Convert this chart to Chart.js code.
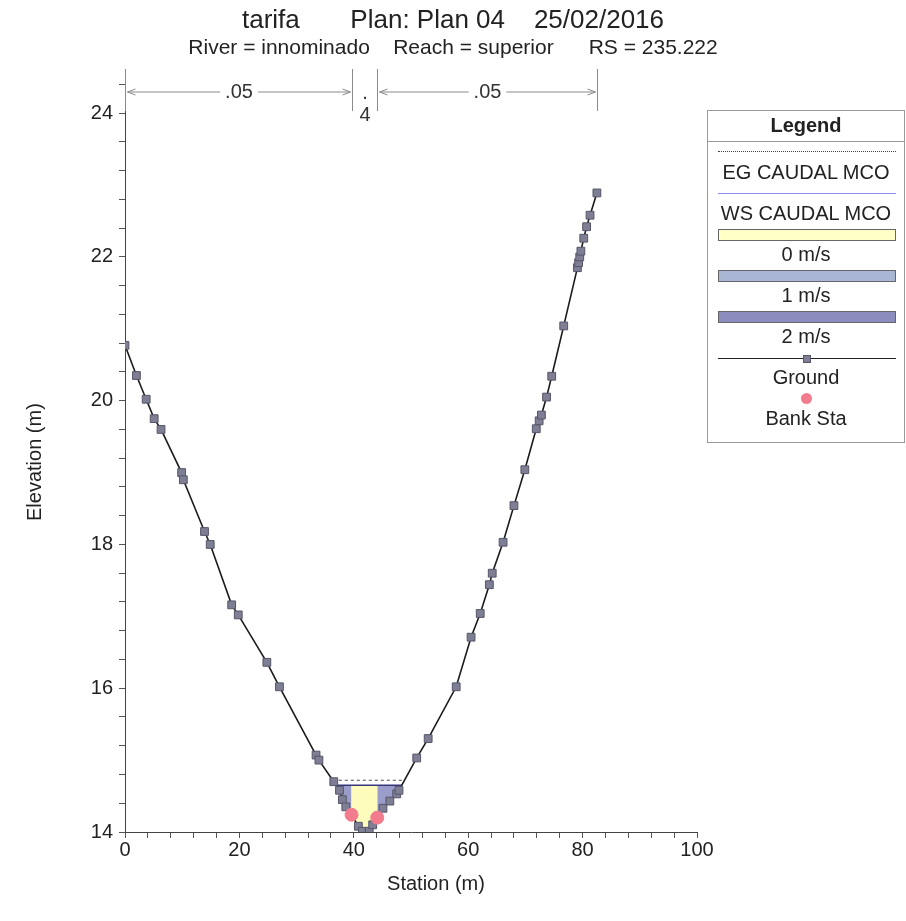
<!DOCTYPE html>
<html>
<head>
<meta charset="utf-8">
<title>tarifa - Plan 04 - RS 235.222</title>
<script src="https://cdn.jsdelivr.net/npm/chart.js@4.4.1/dist/chart.umd.min.js"></script>
<style>
    html, body { margin: 0; padding: 0; background: #fff; }
    #wrap { position: relative; width: 906px; height: 921px; }
    #chart { display: block; }
    #legend {
        position: absolute; left: 707px; top: 110px; width: 198px; height: 333px;
        border: 1px solid #9a9a9a; box-sizing: border-box;
        font-family: "Liberation Sans", Arial, sans-serif; font-size: 20px; color: #222;
        text-align: center;
    }
    #legend .head { height: 30px; line-height: 28px; font-weight: bold; border-bottom: 1px solid #9a9a9a; }
    #legend .sym { position: relative; height: 20px; }
    #legend .lbl { height: 21px; line-height: 21px; white-space: nowrap; }
    #legend .sym span { position: absolute; left: 10px; right: 8px; }
</style>
</head>
<body>
<div id="wrap">
    <canvas id="chart" width="906" height="921"></canvas>
    <div id="legend"></div>
</div>
<script>
// =========================================================
// Data  –  cross section RS 235.222
// =========================================================

const chartTitle = 'tarifa       Plan: Plan 04    25/02/2016';
const chartSubtitle = 'River = innominado    Reach = superior      RS = 235.222';

// ground survey: station (m) / elevation (m)
const groundStation = [
    0, 2.0, 3.7, 5.1, 6.3, 9.9, 10.2, 13.9, 14.9, 18.65, 19.8, 24.8, 27.0,
    33.4, 33.9, 36.5, 37.5, 38.0, 38.6, 39.6, 40.8, 41.5, 42.7, 43.3, 44.1,
    45.1, 46.3, 47.5, 47.9, 51.0, 53.0, 57.9, 60.5, 62.1, 63.7, 64.2, 66.1,
    68.0, 69.9, 71.9, 72.4, 72.8, 73.7, 74.6, 76.7, 79.1, 79.3, 79.5, 79.7,
    80.2, 80.7, 81.3, 82.5
];
const groundElev = [
    20.77, 20.35, 20.02, 19.75, 19.60, 19.00, 18.90, 18.18, 18.00, 17.16, 17.02, 16.36, 16.02,
    15.07, 15.00, 14.70, 14.58, 14.45, 14.35, 14.24, 14.08, 14.01, 14.01, 14.10, 14.20,
    14.33, 14.43, 14.53, 14.58, 15.03, 15.30, 16.02, 16.71, 17.04, 17.44, 17.60, 18.03,
    18.54, 19.04, 19.61, 19.72, 19.80, 20.05, 20.34, 21.04, 21.85, 21.92, 22.00, 22.08,
    22.26, 22.42, 22.58, 22.89
];

const bankStations = [39.6, 44.1];
const wsElev = 14.65;   // WS CAUDAL MCO
const egElev = 14.72;   // EG CAUDAL MCO

// Manning's n header
const nLabels = ['.05', '.4', '.05'];

// velocity legend
const velocityLabels = ['0 m/s', '1 m/s', '2 m/s'];
const velocityColors = ['#ffffc6', '#a9b6d4', '#8c8cbe'];
// colour of each flow slice: left overbank, channel, right overbank
const sliceColors = ['#9a9cca', '#fdfcbc', '#9a9cca'];

// axis ticks
const xTickLabels = [0, 20, 40, 60, 80, 100];
const xMinorStep = 4;
const yTickLabels = [14, 16, 18, 20, 22, 24];
const yMinorStep = 0.4;
const yTop = 24.6;

const fontFamily = '"Liberation Sans", Arial, sans-serif';

// =========================================================
// Helpers
// =========================================================

const ground = groundStation.map((s, i) => ({ x: s, y: groundElev[i] }));

function groundAt(st) {
    for (let i = 1; i < ground.length; i++) {
        const a = ground[i - 1], b = ground[i];
        if (st >= a.x && st <= b.x) {
            return a.y + (b.y - a.y) * (st - a.x) / (b.x - a.x);
        }
    }
    return null;
}

// where the ground meets a level on both sides of the thalweg
function crossings(level) {
    let low = 0;
    ground.forEach((p, i) => { if (p.y < ground[low].y) low = i; });
    let l = low, r = low;
    while (l > 0 && ground[l - 1].y < level) l--;
    while (r < ground.length - 1 && ground[r + 1].y < level) r++;
    const lerp = (a, b) => a.x + (b.x - a.x) * (level - a.y) / (b.y - a.y);
    return [lerp(ground[l - 1], ground[l]), lerp(ground[r], ground[r + 1])];
}

function slicePoints(from, to) {
    const pts = [{ x: from, y: groundAt(from) }];
    ground.forEach(p => { if (p.x > from && p.x < to) pts.push(p); });
    pts.push({ x: to, y: groundAt(to) });
    return pts;
}

const wsEdges = crossings(wsElev);
const egEdges = crossings(egElev);
const sliceBreaks = [wsEdges[0], bankStations[0], bankStations[1], wsEdges[1]];
const nBreaks = [groundStation[0], bankStations[0], bankStations[1], groundStation[groundStation.length - 1]];

// =========================================================
// Datasets
// =========================================================

const datasets = [
    {
        label: 'EG CAUDAL MCO',
        data: egEdges.map(s => ({ x: s, y: egElev })),
        borderColor: '#4a4a4a', borderWidth: 1, borderDash: [3, 3],
        pointRadius: 0, order: 3,
    },
    {
        label: 'WS CAUDAL MCO',
        data: wsEdges.map(s => ({ x: s, y: wsElev })),
        borderColor: '#35357a', borderWidth: 1.5,
        pointRadius: 0, order: 2,
    },
];

sliceColors.forEach((c, i) => {
    datasets.push({
        label: 'slice ' + i,
        data: slicePoints(sliceBreaks[i], sliceBreaks[i + 1]),
        borderWidth: 0, pointRadius: 0,
        backgroundColor: c,
        fill: { value: wsElev },
        order: 5,
    });
});

datasets.push({
    label: 'Ground',
    data: ground,
    borderColor: '#1b1b1b', borderWidth: 1.6,
    pointStyle: 'rect', pointRadius: 5.5,
    pointBackgroundColor: '#7e7e94', pointBorderColor: '#56566a', pointBorderWidth: 1,
    order: 1,
});

datasets.push({
    label: 'Bank Sta',
    data: bankStations.map(s => ({ x: s, y: groundAt(s) })),
    showLine: false,
    pointStyle: 'circle', pointRadius: 6.5,
    pointBackgroundColor: '#f37b8e', pointBorderColor: '#f37b8e',
    order: 0,
});

// =========================================================
// Manning's n header plugin
// =========================================================

const manningPlugin = {
    id: 'manningN',
    afterDraw(chart) {
        const { ctx, chartArea, scales } = chart;
        const top = chartArea.top;
        const yArrow = top + 22;
        const px = nBreaks.map(s => Math.round(scales.x.getPixelForValue(s)) + 0.5);

        ctx.save();
        ctx.strokeStyle = '#8a8a8a';
        ctx.lineWidth = 1;
        ctx.fillStyle = '#333';
        ctx.font = '20px ' + fontFamily;
        ctx.textAlign = 'center';
        ctx.textBaseline = 'middle';

        px.forEach(p => {
            ctx.beginPath();
            ctx.moveTo(p, top - 1);
            ctx.lineTo(p, top + 41);
            ctx.stroke();
        });

        for (let i = 0; i < nLabels.length; i++) {
            const a = px[i] + 2, b = px[i + 1] - 2, mid = (a + b) / 2;
            const label = nLabels[i];
            const w = ctx.measureText(label).width;
            if (w + 30 < b - a) {
                ctx.beginPath();
                ctx.moveTo(a, yArrow); ctx.lineTo(mid - w / 2 - 5, yArrow);
                ctx.moveTo(mid + w / 2 + 5, yArrow); ctx.lineTo(b, yArrow);
                ctx.moveTo(a + 8, yArrow - 3); ctx.lineTo(a, yArrow); ctx.lineTo(a + 8, yArrow + 3);
                ctx.moveTo(b - 8, yArrow - 3); ctx.lineTo(b, yArrow); ctx.lineTo(b - 8, yArrow + 3);
                ctx.stroke();
                ctx.fillText(label, mid, yArrow);
            } else {
                // too narrow: stack the characters
                label.split('').forEach((ch, k) => ctx.fillText(ch, mid, yArrow + 1 + k * 22));
            }
        }
        ctx.restore();
    }
};

// =========================================================
// Chart
// =========================================================

const tickFont = { family: fontFamily, size: 20 };

new Chart(document.getElementById('chart'), {
    type: 'line',
    data: { datasets },
    plugins: [manningPlugin],
    options: {
        responsive: false,
        animation: false,
        devicePixelRatio: 1,
        layout: { padding: 0 },
        plugins: {
            legend: { display: false },
            tooltip: { enabled: false },
            title: {
                display: true, text: chartTitle, color: '#222',
                font: { family: fontFamily, size: 26, weight: 'normal', lineHeight: 1.15 },
                padding: { top: 6, bottom: 0 },
            },
            subtitle: {
                display: true, text: chartSubtitle, color: '#222',
                font: { family: fontFamily, size: 21, lineHeight: 1.1 },
                padding: { top: 1, bottom: 10 },
            },
        },
        scales: {
            x: {
                type: 'linear', min: xTickLabels[0], max: xTickLabels[xTickLabels.length - 1],
                afterBuildTicks: s => {
                    const ticks = [];
                    for (let v = s.min; v <= s.max + 1e-9; v += xMinorStep) ticks.push({ value: v });
                    s.ticks = ticks;
                },
                afterFit: s => { s.height = 89; },
                ticks: {
                    font: tickFont, color: '#222', padding: 0, maxRotation: 0, autoSkip: false,
                    callback: v => xTickLabels.includes(v) ? String(v) : '',
                },
                grid: { drawOnChartArea: false, tickLength: 6, color: '#555' },
                border: { color: '#444', width: 1 },
                title: {
                    display: true, text: '         Station (m)', color: '#222',
                    font: { family: fontFamily, size: 20 }, padding: { top: 0, bottom: 25 },
                },
            },
            y: {
                type: 'linear', min: yTickLabels[0], max: yTop,
                afterBuildTicks: s => {
                    const ticks = [];
                    for (let v = s.min; v <= s.max + 1e-9; v += yMinorStep) ticks.push({ value: Math.round(v * 10) / 10 });
                    s.ticks = ticks;
                },
                afterFit: s => { s.width = 125; },
                ticks: {
                    font: tickFont, color: '#222', padding: 6, autoSkip: false,
                    callback: v => yTickLabels.includes(v) ? String(v) : '',
                },
                grid: { drawOnChartArea: false, tickLength: 6, color: '#555' },
                border: { color: '#444', width: 1 },
                title: {
                    display: true, text: 'Elevation (m)    ', color: '#222',
                    font: { family: fontFamily, size: 20 }, padding: { top: 23, bottom: 0 },
                },
            },
            // empty right-hand box that keeps room for the legend
            legendSpace: {
                type: 'linear', position: 'right', display: true,
                grid: { display: false }, border: { display: false }, ticks: { display: false },
                afterFit: s => { s.width = 209; },
            },
        },
    },
});

// =========================================================
// Legend (HTML)
// =========================================================

function buildLegend() {
    const box = document.getElementById('legend');
    let html = '<div class="head">Legend</div>';
    const item = (sym, label) => { html += '<div class="sym">' + sym + '</div><div class="lbl">' + label + '</div>'; };

    item('<span style="top:9px;border-top:1px dotted #444;"></span>', datasets[0].label);
    item('<span style="top:10px;border-top:1px solid #8c8cf0;"></span>', datasets[1].label);
    velocityLabels.forEach((lbl, i) => {
        item('<span style="top:5px;height:12px;background:' + velocityColors[i] + ';border:1px solid #666;box-sizing:border-box;"></span>', lbl);
    });
    item('<span style="top:11px;border-top:1px solid #222;"></span>' +
         '<span style="top:8px;left:95px;right:auto;width:6px;height:6px;background:#7e7e94;border:1px solid #56566a;"></span>', 'Ground');
    item('<span style="top:5px;left:93px;right:auto;width:11px;height:11px;border-radius:50%;background:#f37b8e;"></span>', 'Bank Sta');
    box.innerHTML = html;
}

buildLegend();
</script>
</body>
</html>
